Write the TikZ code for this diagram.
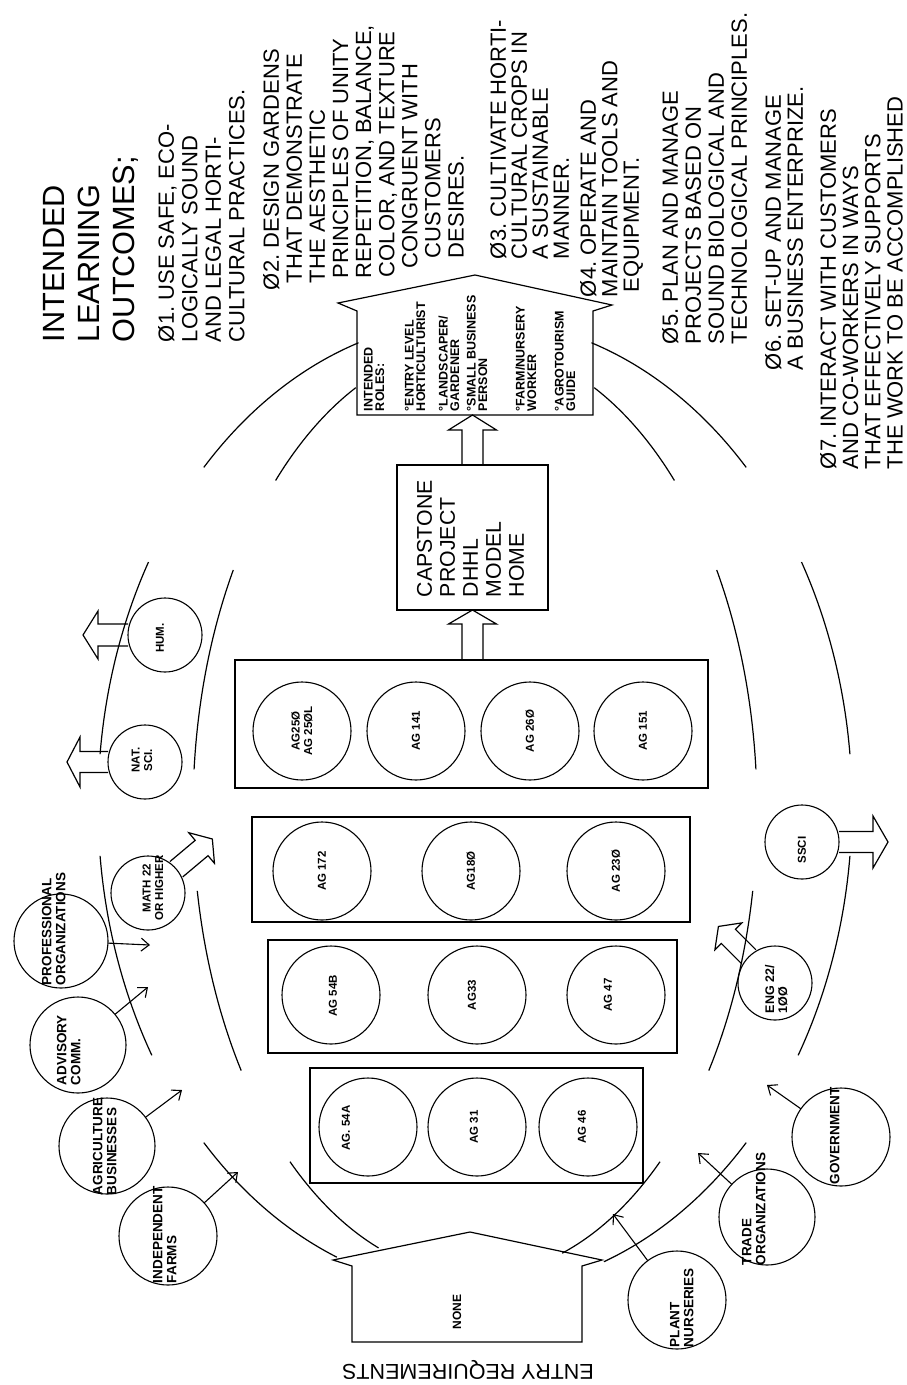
\documentclass[tikz,border=0pt]{standalone}
\usepackage{fontspec}
\setmainfont{Liberation Sans}
\usetikzlibrary{arrows.meta,calc}
\tikzset{
  pics/barrow/.style args={#1/#2/#3/#4}{code={
    \draw[line width=1.2pt, line join=miter]
      (0,-#2) -- ({#1-#4},-#2) -- ({#1-#4},-#3) -- (#1,0) -- ({#1-#4},#3) -- ({#1-#4},#2) -- (0,#2);
  }},
}
\frenchspacing
\begin{document}
\begin{tikzpicture}[x=1pt,y=-1pt,
  every node/.style={inner sep=0pt, outer sep=0pt},
  ln/.style={line width=1.2pt},
  circ/.style={draw, circle, line width=1.1pt, minimum size=#1},
  boxs/.style={draw, rectangle, line width=1.1pt},
  rtext/.style={rotate=90, align=left, anchor=north west},
  outc/.style={rtext, font=\fontsize{22}{#1}\selectfont},
  lab/.style={rotate=90, align=center, font=\bfseries\fontsize{11.5}{12.5}\selectfont},
  olab/.style={rtext, font=\bfseries\fontsize{13.5}{14}\selectfont},
  tarr/.style={line width=1.1pt, -{Straight Barb[length=8pt,width=13pt,line width=1.1pt]}},
]
\fill[white] (0,0) rectangle (906,1385);
\useasboundingbox (0,0) rectangle (906,1385);

% ---------- outcomes text ----------
\node[rtext, font=\fontsize{30.7}{35}\selectfont] (head) at (43,342) {INTENDED\\LEARNING\\OUTCOMES;};
\node[outc=23.5] (o1) at (158,342) {Ø1. USE SAFE, ECO-\\LOGICALLY SOUND\\AND LEGAL HORTI-\\CULTURAL PRACTICES.};
\node[outc=23.1] (o2) at (263,290) {Ø2. DESIGN GARDENS\\\hspace*{7pt}THAT DEMONSTRATE\\\hspace*{7pt}THE AESTHETIC\\\hspace*{12pt}PRINCIPLES OF UNITY\\\hspace*{12pt}REPETITION, BALANCE,\\\hspace*{13pt}COLOR, AND TEXTURE\\\hspace*{22pt}CONGRUENT WITH\\\hspace*{32pt}CUSTOMERS\\\hspace*{32pt}DESIRES.};
\node[outc=21] (o3) at (490,259) {Ø3. CULTIVATE HORTI-\\CULTURAL CROPS IN\\A SUSTAINABLE\\MANNER.};
\node[outc=21.5] (o4) at (580,297) {Ø4. OPERATE AND\\MAINTAIN TOOLS AND\\\hspace*{5pt}EQUIPMENT.};
\node[outc=23] (o5) at (662,344) {Ø5. PLAN AND MANAGE\\PROJECTS BASED ON\\SOUND BIOLOGICAL AND\\TECHNOLOGICAL PRINCIPLES.};
\node[outc=22] (o6) at (765,370) {Ø6. SET-UP AND MANAGE\\A BUSINESS ENTERPRIZE.};
\node[outc=22.3] (o7) at (820,469) {Ø7. INTERACT WITH CUSTOMERS\\AND CO-WORKERS IN WAYS\\THAT EFFECTIVELY SUPPORTS\\THE WORK TO BE ACCOMPLISHED};

% ---------- top house (intended roles) ----------
\draw[ln, line join=miter] (357,415) -- (357,311) -- (338,303) -- (475,275) -- (612,305) -- (593,311) -- (593,415) -- cycle;
\coordinate (houseB) at (475,415);
\node[rtext, font=\bfseries\fontsize{12.5}{11.5}\selectfont] (roles) at (364,411)
  {INTENDED\\ROLES:\\[18pt]°ENTRY LEVEL\\HORTICULTURIST\\[11pt]°LANDSCAPER/\\GARDENER\\[5pt]°SMALL BUSINESS\\PERSON\\[26pt]°FARM/NURSERY\\WORKER\\[16pt]°AGROTOURISM\\GUIDE};

% ---------- capstone ----------
\node[boxs, minimum width=151pt, minimum height=145pt] (cap) at (472.5,537.5) {};
\node[rtext, font=\fontsize{21.3}{23}\selectfont] (capT) at (417,597) {CAPSTONE\\PROJECT\\DHHL\\MODEL\\HOME};

% ---------- course boxes ----------
\node[boxs, minimum width=473pt, minimum height=128pt] (box4) at (471.5,724) {};
\node[boxs, minimum width=438pt, minimum height=105pt] (box3) at (471,869.5) {};
\node[boxs, minimum width=409pt, minimum height=113pt] (box2) at (472.5,996.5) {};
\node[boxs, minimum width=333pt, minimum height=115pt] (box1) at (476.5,1125.5) {};

\node[circ=98pt] (c250) at (302,731) {};
\node[circ=98pt] (c141) at (416,731) {};
\node[circ=98pt] (c260) at (530,731) {};
\node[circ=98pt] (c151) at (643,731) {};
\node[lab] (t250) at (c250) {AG25Ø\\AG 25ØL};
\node[lab] (t141) at (c141) {AG 141};
\node[lab] (t260) at (c260) {AG 26Ø};
\node[lab] (t151) at (c151) {AG 151};

\node[circ=98pt] (c172) at (322,871) {};
\node[circ=98pt] (c180) at (471,871) {};
\node[circ=98pt] (c230) at (616,871) {};
\node[lab] (t172) at (c172) {AG 172};
\node[lab] (t180) at (c180) {AG18Ø};
\node[lab] (t230) at (c230) {AG 23Ø};

\node[circ=98pt] (c54b) at (331,995) {};
\node[circ=98pt] (c33) at (477,995) {};
\node[circ=98pt] (c47) at (616,995) {};
\node[lab] (t54b) at (333,996) {AG 54B};
\node[lab] (t33) at (472,995) {AG33};
\node[lab] (t47) at (608,995) {AG 47};

\node[circ=98pt] (c54a) at (368,1127) {};
\node[circ=98pt] (c31) at (477,1127) {};
\node[circ=98pt] (c46) at (588,1127) {};
\node[lab] (t54a) at (346,1128) {AG. 54A};
\node[lab] (t31) at (474,1127) {AG 31};
\node[lab] (t46) at (582,1127) {AG 46};

% ---------- block arrows up the middle ----------
\pic[rotate=90] at (cap.south |- box4.north) {barrow=50/10.5/24/14};
\pic[rotate=90] at (cap.north) {barrow=50/10.5/24/15};

% ---------- ring arcs ----------
\coordinate (oc) at (475,805);
\coordinate (ic) at (475,810);
\foreach \a/\b in {252/224, 210/186, 174/149, 136/111.5, 288/316, 330/354, 6/31, 44/70}
  \draw[ln] (oc) ++(\a:377 and 486) arc[start angle=\a, end angle=\b, x radius=377, y radius=486];
\foreach \a/\b in {245/225, 211/185, 170/146, 131/110, 295/315, 329/355, 10/34, 49/72}
  \draw[ln] (ic) ++(\a:282 and 466) arc[start angle=\a, end angle=\b, x radius=282, y radius=466];

% ---------- left circles ----------
\node[circ=74pt] (hum) at (165,635) {};
\node[lab] (humT) at (160,638) {HUM.};
\pic[rotate=180] at (hum.west) {barrow=45/11/24/15};

\node[circ=74pt] (nat) at (145,762) {};
\node[lab] (natT) at (142,760) {NAT.\\SCI.};
\pic[rotate=180] at (nat.west) {barrow=41/10.5/25/13};

\node[circ=74pt] (math) at (148,893) {};
\node[lab] (mathT) at (153,888) {MATH 22\\OR HIGHER};
\pic[rotate=40] at (math.40) {barrow=47/10/20/14};

\node[circ=94pt] (prof) at (61,941) {};
\node[olab] (profT) at (42,985) {PROFESSIONAL\\ORGANIZATIONS};
\coordinate (tProf) at (150,945);
\draw[tarr] (prof) -- (tProf);

\node[circ=96pt] (adv) at (78,1045) {};
\node[olab] (advT) at (57,1085) {ADVISORY\\COMM.};
\coordinate (tAdv) at (148,987);
\draw[tarr] (adv) -- (tAdv);

\node[circ=96pt] (agri) at (107,1146) {};
\node[olab] (agriT) at (93,1195) {AGRICULTURE\\BUSINESSES};
\coordinate (tAgri) at (182,1090);
\draw[tarr] (agri) -- (tAgri);

\node[circ=98pt] (indf) at (168,1236) {};
\node[olab] (indfT) at (153,1283) {INDEPENDENT\\FARMS};
\coordinate (tIndf) at (238,1172);
\draw[tarr] (indf) -- (tIndf);

% ---------- right circles ----------
\node[circ=74pt] (ssci) at (802,842) {};
\node[lab] (ssciT) at (802,850) {SSCI};
\pic at (ssci.east) {barrow=49/10.5/26/15};

\node[circ=74pt] (eng) at (775,983) {};
\node[olab, font=\bfseries\fontsize{12.5}{13}\selectfont] (engT) at (765,1013) {ENG 22/\\1ØØ};
\pic[rotate=135] at (eng.135) {barrow=43/10/19/14};

\node[circ=98pt] (govt) at (841,1137) {};
\node[olab] (govtT) at (830,1184) {GOVERNMENT};
\coordinate (tGovt) at (767,1085);
\draw[tarr] (govt) -- (tGovt);

\node[circ=96pt] (trade) at (767,1217) {};
\node[olab] (tradeT) at (742,1265) {TRADE\\ORGANIZATIONS};
\coordinate (tTrade) at (698,1153);
\draw[tarr] (trade) -- (tTrade);

\node[circ=98pt] (plant) at (677,1300) {};
\node[olab] (plantT) at (670,1347) {PLANT\\NURSERIES};
\coordinate (tPlant) at (613,1214);
\draw[tarr] (plant) -- (tPlant);

% ---------- bottom house (entry requirements) ----------
\draw[ln, line join=miter] (352,1342) -- (352,1266) -- (333,1260) -- (470,1232) -- (602,1260) -- (582,1266) -- (582,1342) -- cycle;
\node[lab, font=\bfseries\fontsize{12}{13}\selectfont] (none) at (457,1312) {NONE};
\node[rotate=180, font=\fontsize{21.5}{22}\selectfont] (entry) at (468,1370) {ENTRY REQUIREMENTS};
\end{tikzpicture}
\end{document}
